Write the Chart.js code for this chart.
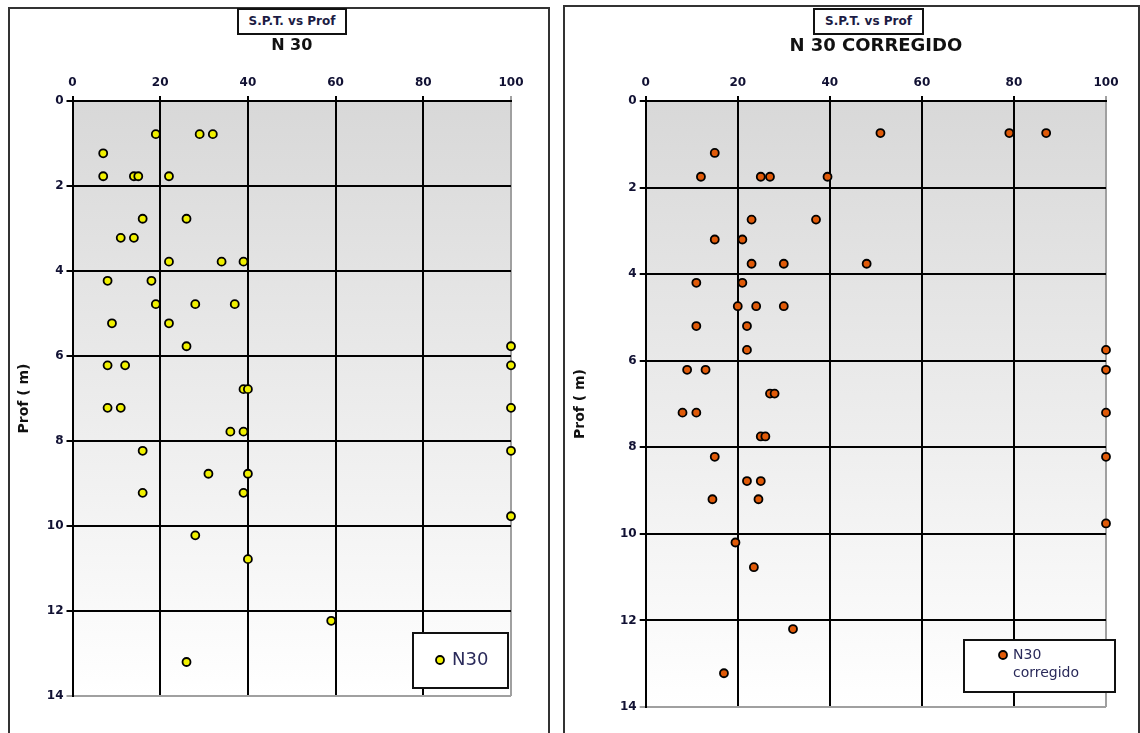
<!DOCTYPE html>
<html>
<head>
<meta charset="utf-8">
<script src="https://cdn.jsdelivr.net/npm/chart.js@4.4.1/dist/chart.umd.min.js"></script>
<style>
    body { margin: 0; width: 1140px; height: 733px; overflow: hidden; background: #fff; font-family: "DejaVu Sans", Verdana, sans-serif; }
    .marco { position: absolute; border: 2px solid #333; box-sizing: border-box; }
    .caja { position: absolute; border: 2px solid #111; background: #fff; font-weight: bold; font-size: 12px; color: #1c1c44; text-align: center; box-sizing: border-box; line-height: 22px; z-index: 2; }
    canvas { position: absolute; top: 0; }
</style>
</head>
<body>
<div class="marco" style="left:8px; top:7px; width:542px; height:740px;"></div>
<div class="marco" style="left:563px; top:5px; width:577px; height:740px;"></div>
<div class="caja" style="left:237px; top:8px; width:110px; height:27px;">S.P.T. vs Prof</div>
<div class="caja" style="left:813px; top:8px; width:111px; height:27px;">S.P.T. vs Prof</div>
<canvas id="chart-n30" width="556" height="733" style="left:0px;"></canvas>
<canvas id="chart-corregido" width="584" height="733" style="left:556px;"></canvas>

<script>
// ticks
const ejeX = [0, 20, 40, 60, 80, 100];
const ejeY = [0, 2, 4, 6, 8, 10, 12, 14];

// N 30 (profundidad en m, valor N)
const n30Prof = [
    0.78, 0.78, 0.78, 1.23, 1.77, 1.77, 1.77, 1.77, 2.77, 2.77, 3.22, 3.22,
    3.78, 3.78, 3.78, 4.23, 4.23, 4.78, 4.78, 4.78, 5.23, 5.23, 5.77, 5.77,
    6.22, 6.22, 6.22, 6.78, 6.78, 7.22, 7.22, 7.22, 7.78, 7.78, 8.23, 8.23,
    8.77, 8.77, 9.22, 9.22, 9.77, 10.22, 10.78, 12.23, 13.2,
];
const n30Valor = [
    19, 29, 32, 7, 7, 14, 15, 22, 16, 26, 11, 14,
    22, 34, 39, 8, 18, 19, 28, 37, 9, 22, 26, 100,
    8, 12, 100, 39, 40, 8, 11, 100, 36, 39, 16, 100,
    31, 40, 16, 39, 100, 28, 40, 59, 26,
];

// N 30 corregido
const corrProf = [
    0.74, 0.74, 0.74, 1.2, 1.75, 1.75, 1.75, 1.75, 2.74, 2.74, 3.2, 3.2,
    3.76, 3.76, 3.76, 4.2, 4.2, 4.74, 4.74, 4.74, 5.2, 5.2, 5.75, 5.75,
    6.21, 6.21, 6.21, 6.76, 6.76, 7.2, 7.2, 7.2, 7.75, 7.75, 8.22, 8.22,
    8.78, 8.78, 9.2, 9.2, 9.76, 10.2, 10.77, 12.2, 13.22,
];
const corrValor = [
    51, 79, 87, 15, 12, 25, 27, 39.5, 23, 37, 15, 21,
    23, 30, 48, 11, 21, 20, 24, 30, 11, 22, 22, 100,
    9, 13, 100, 27, 28, 8, 11, 100, 25, 26, 15, 100,
    22, 25, 14.5, 24.5, 100, 19.5, 23.5, 32, 17,
];

const NEGRO = "#000";
const GRIS = "#a0a0a0";

// fondo degradado del area de trazado
const fondoPlugin = {
    id: "fondo",
    beforeDraw(chart) {
        const { ctx, chartArea: a } = chart;
        const g = ctx.createLinearGradient(0, a.top, 0, a.bottom);
        g.addColorStop(0, "#d8d8d8");
        g.addColorStop(1, "#ffffff");
        ctx.save();
        ctx.fillStyle = g;
        ctx.fillRect(a.left, a.top, a.right - a.left, a.bottom - a.top);
        ctx.restore();
    },
};

// leyenda con marco dentro del grafico
const leyendaPlugin = {
    id: "leyendaCaja",
    afterDraw(chart, args, opts) {
        const { ctx } = chart;
        const ds = chart.data.datasets[0];
        ctx.save();
        ctx.fillStyle = "#fff";
        ctx.fillRect(opts.x, opts.y, opts.w, opts.h);
        ctx.strokeStyle = "#111";
        ctx.lineWidth = 2;
        ctx.strokeRect(opts.x, opts.y, opts.w, opts.h);
        ctx.beginPath();
        ctx.arc(opts.px, opts.py, 4, 0, Math.PI * 2);
        ctx.fillStyle = ds.backgroundColor;
        ctx.fill();
        ctx.lineWidth = 1.8;
        ctx.strokeStyle = "#000";
        ctx.stroke();
        ctx.fillStyle = "#2a2a5a";
        ctx.font = opts.fontSize + "px 'DejaVu Sans'";
        ctx.textBaseline = "middle";
        ds.label.split("\n").forEach((linea, i) => {
            ctx.fillText(linea, opts.tx, opts.py + i * opts.fontSize * 1.3);
        });
        ctx.restore();
    },
};

function crearGrafico(id, cfg) {
    const ctx = document.getElementById(id).getContext("2d");
    const puntos = cfg.valores.map((v, i) => ({ x: v, y: cfg.prof[i] }));
    return new Chart(ctx, {
        type: "scatter",
        data: {
            datasets: [
                {
                    label: cfg.label,
                    data: puntos,
                    backgroundColor: cfg.color,
                    borderColor: "#000",
                    borderWidth: 1.8,
                    pointRadius: 4,
                    pointHoverRadius: 4,
                    clip: false,
                },
            ],
        },
        options: {
            responsive: false,
            animation: false,
            events: [],
            layout: { padding: cfg.padding },
            plugins: {
                legend: { display: false },
                tooltip: { enabled: false },
                title: {
                    display: true,
                    text: cfg.titulo,
                    fullSize: false,
                    color: "#111",
                    font: { family: "'DejaVu Sans'", size: cfg.tituloSize, weight: "bold" },
                    padding: { top: 46 - cfg.tituloSize * 0.6, bottom: 0 },
                },
                leyendaCaja: cfg.leyenda,
            },
            scales: {
                x: {
                    type: "linear",
                    position: "top",
                    min: 0,
                    max: 100,
                    afterBuildTicks: (s) => { s.ticks = ejeX.map((v) => ({ value: v })); },
                    afterFit: (s) => { s.height = 101 - (46 + cfg.tituloSize * 0.6); },
                    border: { color: NEGRO, width: 2 },
                    grid: {
                        color: (c) => (c.tick && c.tick.value === 100 ? GRIS : NEGRO),
                        lineWidth: 2,
                        tickLength: 5,
                    },
                    ticks: {
                        color: "#111133",
                        padding: 6,
                        font: { family: "'DejaVu Sans'", size: 12, weight: "bold" },
                    },
                },
                y: {
                    type: "linear",
                    reverse: true,
                    min: 0,
                    max: 14,
                    afterBuildTicks: (s) => { s.ticks = ejeY.map((v) => ({ value: v })); },
                    afterFit: (s) => { s.width = cfg.anchoY; },
                    border: { color: NEGRO, width: 2 },
                    grid: {
                        color: (c) => (c.tick && c.tick.value === 14 ? GRIS : NEGRO),
                        lineWidth: 2,
                        tickLength: 6,
                    },
                    ticks: {
                        color: "#111133",
                        padding: 3,
                        font: { family: "'DejaVu Sans'", size: 12, weight: "bold" },
                    },
                    title: {
                        display: true,
                        text: "Prof ( m)",
                        color: "#111",
                        padding: { top: 8, bottom: 0 },
                        font: { family: "'DejaVu Sans'", size: 14, weight: "bold" },
                    },
                },
            },
        },
        plugins: [fondoPlugin, leyendaPlugin],
    });
}

document.addEventListener("DOMContentLoaded", function () {
    crearGrafico("chart-n30", {
        titulo: "N 30",
        tituloSize: 16,
        label: "N30",
        color: "#f0f000",
        valores: n30Valor,
        prof: n30Prof,
        anchoY: 64.5,
        padding: { left: 8, right: 45, top: 0, bottom: 37 },
        leyenda: { x: 413, y: 633, w: 95, h: 55, px: 440, py: 660, tx: 452, fontSize: 18 },
    });
    crearGrafico("chart-corregido", {
        titulo: "N 30 CORREGIDO",
        tituloSize: 18,
        label: "N30\ncorregido",
        color: "#e05a08",
        valores: corrValor,
        prof: corrProf,
        anchoY: 81.7,
        padding: { left: 8, right: 34, top: 0, bottom: 26 },
        leyenda: { x: 408, y: 640, w: 151, h: 52, px: 447, py: 655, tx: 457, fontSize: 14 },
    });
});
</script>
</body>
</html>
